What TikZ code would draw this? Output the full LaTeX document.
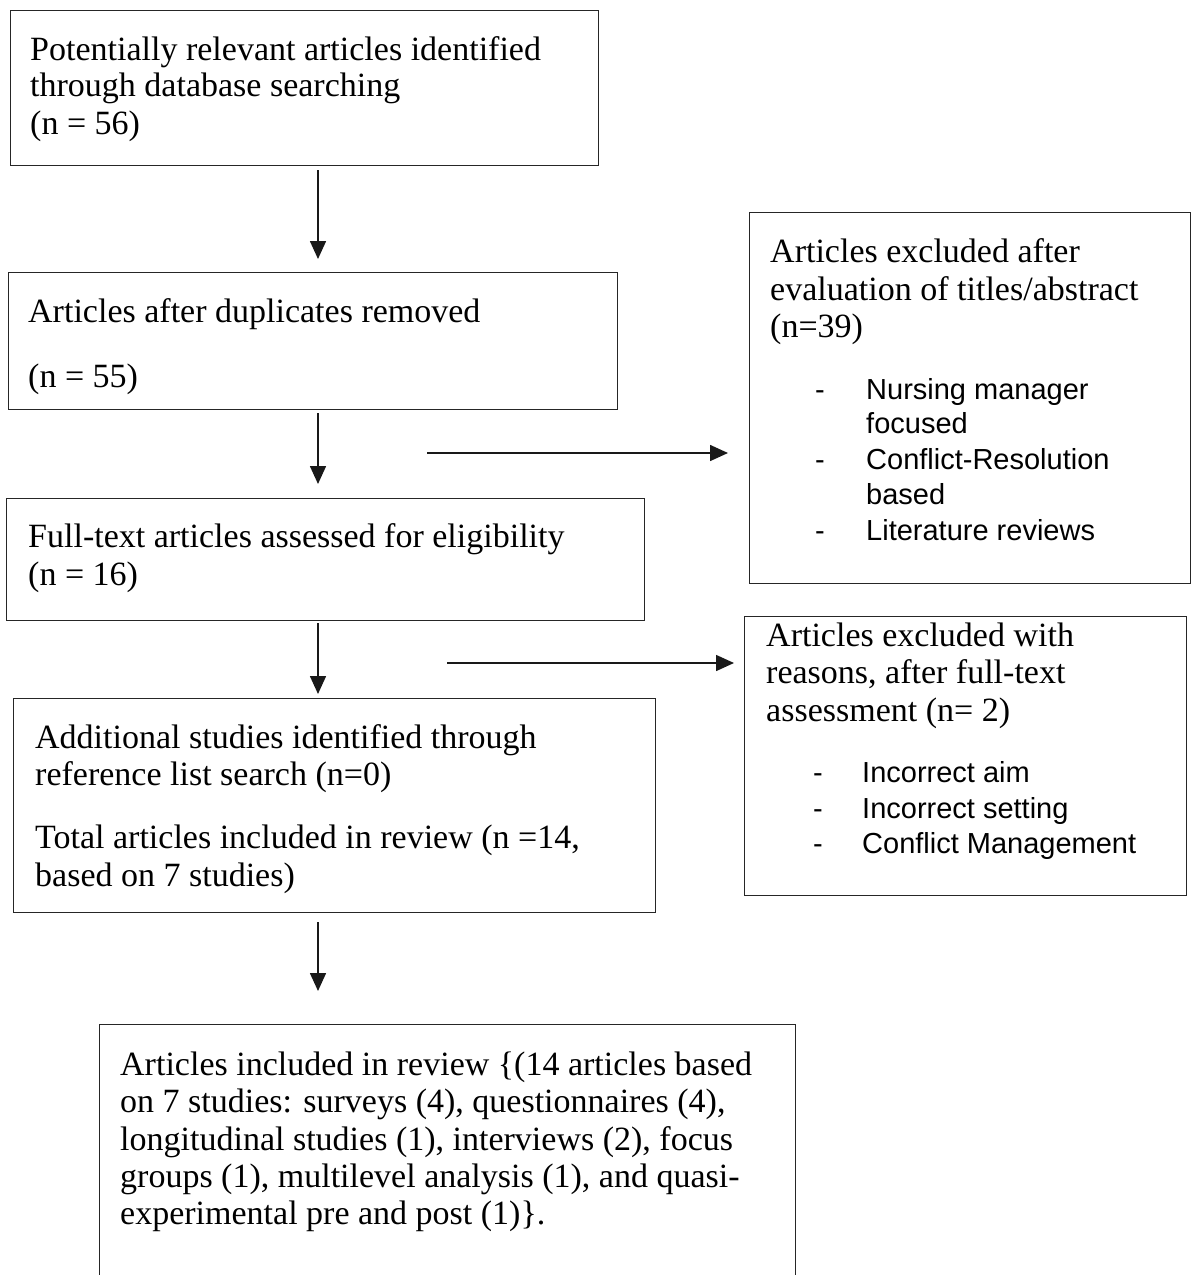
\documentclass[tikz,border=0pt]{standalone}
\usepackage{fontspec}
\setmainfont{Liberation Serif}
\setsansfont{Liberation Sans}
\usetikzlibrary{arrows.meta}
\newcommand\serifsz{\rmfamily\fontsize{34}{37}\selectfont}
\newcommand\sanssz{\sffamily\fontsize{29}{34}\selectfont}
\tikzset{
  box/.style={draw=black!85, line width=1.4pt, inner sep=0pt, anchor=north west},
  txt/.style={anchor=base west, inner sep=0pt, font=\serifsz},
  bul/.style={anchor=base west, inner sep=0pt, font=\sanssz},
  arr/.style={draw=black!90, line width=1.6pt, -{Triangle[length=18pt,width=16pt]}}
}
\begin{document}
\begin{tikzpicture}[x=1pt,y=-1pt]
\useasboundingbox[fill=white] (0,0) rectangle (1193,1275);
% boxes
\node[box, minimum width=588pt, minimum height=155pt] (b1) at (10,10) {};
\node[box, minimum width=609pt, minimum height=137pt] (b2) at (8,272) {};
\node[box, minimum width=638pt, minimum height=122pt] (b4) at (6,498) {};
\node[box, minimum width=642pt, minimum height=214pt] (b6) at (13,698) {};
\node[box, minimum width=696pt, minimum height=280pt] (b7) at (99,1024) {};
\node[box, minimum width=441pt, minimum height=371pt] (b3) at (749,212) {};
\node[box, minimum width=442pt, minimum height=279pt] (b5) at (744,616) {};
% box 1
\node[txt] (t1a) at (30,60) {Potentially relevant articles identified};
\node[txt] (t1b) at (30,96) {through database searching};
\node[txt] (t1c) at (30,134) {(n = 56)};
% box 2
\node[txt] (t2a) at (28,322) {Articles after duplicates removed};
\node[txt] (t2b) at (28,387) {(n = 55)};
% box 4
\node[txt] (t4a) at (28,547) {Full-text articles assessed for eligibility};
\node[txt] (t4b) at (28,585) {(n = 16)};
% box 6
\node[txt] (t6a) at (35,748) {Additional studies identified through};
\node[txt] (t6b) at (35,785) {reference list search (n=0)};
\node[txt] (t6c) at (35,848) {Total articles included in review (n =14,};
\node[txt] (t6d) at (35,886) {based on 7 studies)};
% box 7
\node[txt] (t7a) at (120,1075) {Articles included in review \{(14 articles based};
\node[txt] (t7b) at (120,1112) {on 7 studies: surveys (4), questionnaires (4),};
\node[txt] (t7c) at (120,1150) {longitudinal studies (1), interviews (2), focus};
\node[txt] (t7d) at (120,1187) {groups (1), multilevel analysis (1), and quasi-};
\node[txt] (t7e) at (120,1224) {experimental pre and post (1)\}.};
% box 3
\node[txt] (t3a) at (770,262) {Articles excluded after};
\node[txt] (t3b) at (770,300) {evaluation of titles/abstract};
\node[txt] (t3c) at (770,337) {(n=39)};
\node[bul] (d3a) at (815,399) {-};
\node[bul] (u3a) at (866,399) {Nursing manager};
\node[bul] (u3b) at (866,433) {focused};
\node[bul] (d3c) at (815,469) {-};
\node[bul] (u3c) at (866,469) {Conflict-Resolution};
\node[bul] (u3d) at (866,504) {based};
\node[bul] (d3e) at (815,540) {-};
\node[bul] (u3e) at (866,540) {Literature reviews};
% box 5
\node[txt] (t5a) at (766,646) {Articles excluded with};
\node[txt] (t5b) at (766,683) {reasons, after full-text};
\node[txt] (t5c) at (766,721) {assessment (n= 2)};
\node[bul] (d5a) at (813,782) {-};
\node[bul] (u5a) at (862,782) {Incorrect aim};
\node[bul] (d5b) at (813,818) {-};
\node[bul] (u5b) at (862,818) {Incorrect setting};
\node[bul] (d5c) at (813,853) {-};
\node[bul] (u5c) at (862,853) {Conflict Management};
% arrow end points
\coordinate (a1s) at (318,170);
\coordinate (a1e) at (318,259);
\coordinate (a2s) at (318,413);
\coordinate (a2e) at (318,484);
\coordinate (a3s) at (318,623);
\coordinate (a3e) at (318,694);
\coordinate (a4s) at (318,922);
\coordinate (a4e) at (318,991);
\coordinate (h1s) at (427,453);
\coordinate (h1e) at (728,453);
\coordinate (h2s) at (447,663);
\coordinate (h2e) at (734,663);
\draw[arr] (a1s) -- (a1e);
\draw[arr] (a2s) -- (a2e);
\draw[arr] (a3s) -- (a3e);
\draw[arr] (a4s) -- (a4e);
\draw[arr] (h1s) -- (h1e);
\draw[arr] (h2s) -- (h2e);
\end{tikzpicture}
\end{document}
